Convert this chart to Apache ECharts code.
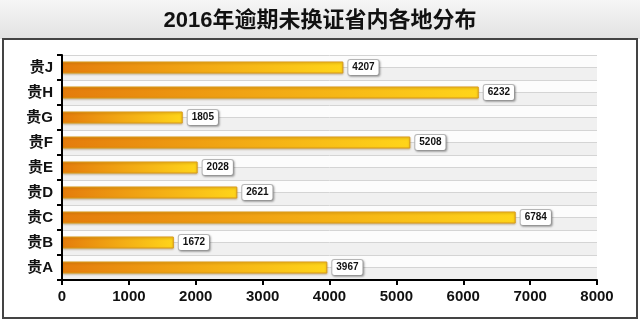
<!DOCTYPE html>
<html>
<head>
<meta charset="utf-8">
<script src="https://cdn.jsdelivr.net/npm/echarts@6/dist/echarts.min.js"></script>
<style>
  html, body { margin: 0; padding: 0; background: #fff; }
  #chart { width: 640px; height: 323px; }
</style>
</head>
<body>
<div id="chart"></div>
<script>
// Regions, listed bottom to top as the category axis draws them
var regions = ['贵A', '贵B', '贵C', '贵D', '贵E', '贵F', '贵G', '贵H', '贵J'];
// Number of overdue licences per region
var counts = [3967, 1672, 6784, 2621, 2028, 5208, 1805, 6232, 4207];
// Value axis ticks
var valueTicks = [0, 1000, 2000, 3000, 4000, 5000, 6000, 7000, 8000];
var chartTitle = '2016年逾期未换证省内各地分布';

// Half-band helper axis: two stripes per region for the background banding
var halfBands = [];
regions.forEach(function (r) { halfBands.push(r + '-low', r + '-high'); });

var font = "'Liberation Sans', 'Noto Sans CJK SC', sans-serif";
var chart = echarts.init(document.getElementById('chart'), null, { renderer: 'canvas' });

chart.setOption({
  backgroundColor: '#ffffff',
  animation: false,
  graphic: [
    {
      type: 'rect', z: -10, silent: true,
      shape: { x: 0, y: 0, width: 640, height: 39 },
      style: {
        fill: new echarts.graphic.LinearGradient(0, 0, 0, 1, [
          { offset: 0, color: '#f6f6f6' },
          { offset: 1, color: '#e2e2e2' }
        ])
      }
    },
    {
      type: 'rect', z: 10, silent: true,
      shape: { x: 3, y: 39, width: 634, height: 279 },
      style: { fill: 'none', stroke: '#444', lineWidth: 2 }
    }
  ],
  title: {
    text: chartTitle,
    left: 'center',
    top: 5,
    textStyle: { fontFamily: font, fontWeight: 'bold', fontSize: 22, color: '#111' }
  },
  grid: { left: 62, right: 43, top: 55, bottom: 43, containLabel: false },
  xAxis: {
    type: 'value',
    min: valueTicks[0],
    max: valueTicks[valueTicks.length - 1],
    interval: valueTicks[1] - valueTicks[0],
    axisLine: { show: true, lineStyle: { color: '#000', width: 2 } },
    axisTick: { show: true, length: 5, lineStyle: { color: '#000', width: 2 } },
    axisLabel: {
      fontFamily: font, fontWeight: 'bold', fontSize: 15, color: '#111', margin: 9,
      formatter: function (v) { return String(v); }
    },
    splitLine: { show: false }
  },
  yAxis: [
    {
      type: 'category',
      data: regions,
      axisLine: { show: true, lineStyle: { color: '#000', width: 2 } },
      axisTick: { show: true, length: 5, lineStyle: { color: '#000', width: 2 } },
      axisLabel: { fontFamily: font, fontWeight: 'bold', fontSize: 15, color: '#111', margin: 9 },
      splitLine: { show: false },
      z: 5
    },
    {
      type: 'category',
      data: halfBands,
      position: 'left',
      axisLine: { show: false },
      axisTick: { show: false, interval: 0 },
      axisLabel: { show: false, interval: 0 },
      splitLine: { show: true, interval: 0, lineStyle: { color: '#d4d4d4', width: 1 } },
      splitArea: { show: true, interval: 0, areaStyle: { color: ['#f0f0f0', '#fcfcfc'] } },
      z: 0
    }
  ],
  series: [{
    type: 'bar',
    yAxisIndex: 0,
    data: counts,
    barWidth: 12,
    itemStyle: {
      color: new echarts.graphic.LinearGradient(0, 0, 1, 0, [
        { offset: 0, color: '#e47c0c' },
        { offset: 0.5, color: '#f2a914' },
        { offset: 1, color: '#ffd51a' }
      ]),
      borderColor: '#d99a1a',
      borderWidth: 1,
      shadowColor: 'rgba(120,80,0,0.35)',
      shadowBlur: 2,
      shadowOffsetY: 1
    },
    label: {
      show: true,
      position: 'right',
      distance: 5,
      fontFamily: font,
      fontWeight: 'bold',
      fontSize: 10,
      color: '#111',
      backgroundColor: '#ffffff',
      borderColor: '#b8b8b8',
      borderWidth: 1,
      borderRadius: 2,
      padding: [3, 4, 2, 4],
      shadowColor: 'rgba(0,0,0,0.25)',
      shadowBlur: 2,
      shadowOffsetX: 1,
      shadowOffsetY: 1
    }
  }]
});
</script>
</body>
</html>
